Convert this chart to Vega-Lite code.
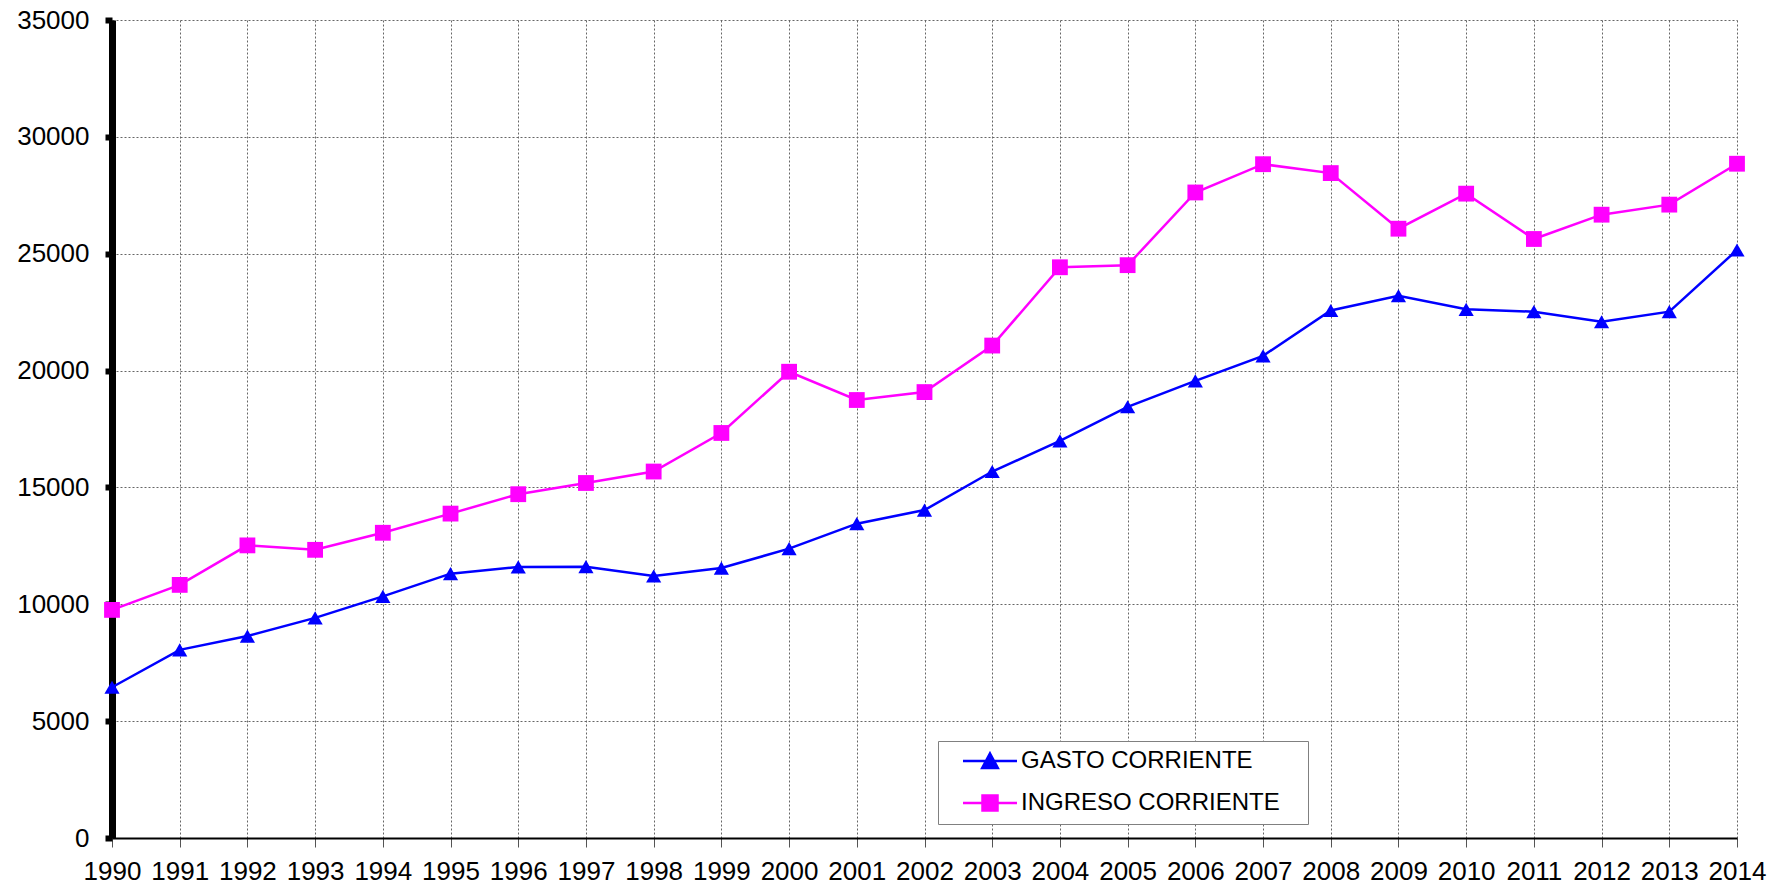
{
  "$schema": "https://vega.github.io/schema/vega-lite/v6.json",
  "autosize": "none",
  "width": 1625,
  "height": 818,
  "padding": {"left": 112, "top": 20, "right": 43, "bottom": 48},
  "background": "white",
  "config": {
    "view": {"stroke": null},
    "font": "Liberation Sans"
  },
  "data": {
    "values": [
      {"year": 1990, "serie": "GASTO CORRIENTE", "valor": 6450},
      {"year": 1991, "serie": "GASTO CORRIENTE", "valor": 8050},
      {"year": 1992, "serie": "GASTO CORRIENTE", "valor": 8640},
      {"year": 1993, "serie": "GASTO CORRIENTE", "valor": 9420},
      {"year": 1994, "serie": "GASTO CORRIENTE", "valor": 10340},
      {"year": 1995, "serie": "GASTO CORRIENTE", "valor": 11310},
      {"year": 1996, "serie": "GASTO CORRIENTE", "valor": 11600},
      {"year": 1997, "serie": "GASTO CORRIENTE", "valor": 11610},
      {"year": 1998, "serie": "GASTO CORRIENTE", "valor": 11210},
      {"year": 1999, "serie": "GASTO CORRIENTE", "valor": 11550},
      {"year": 2000, "serie": "GASTO CORRIENTE", "valor": 12380},
      {"year": 2001, "serie": "GASTO CORRIENTE", "valor": 13450},
      {"year": 2002, "serie": "GASTO CORRIENTE", "valor": 14030},
      {"year": 2003, "serie": "GASTO CORRIENTE", "valor": 15680},
      {"year": 2004, "serie": "GASTO CORRIENTE", "valor": 16990},
      {"year": 2005, "serie": "GASTO CORRIENTE", "valor": 18450},
      {"year": 2006, "serie": "GASTO CORRIENTE", "valor": 19560},
      {"year": 2007, "serie": "GASTO CORRIENTE", "valor": 20630},
      {"year": 2008, "serie": "GASTO CORRIENTE", "valor": 22570},
      {"year": 2009, "serie": "GASTO CORRIENTE", "valor": 23200},
      {"year": 2010, "serie": "GASTO CORRIENTE", "valor": 22620},
      {"year": 2011, "serie": "GASTO CORRIENTE", "valor": 22520},
      {"year": 2012, "serie": "GASTO CORRIENTE", "valor": 22090},
      {"year": 2013, "serie": "GASTO CORRIENTE", "valor": 22520},
      {"year": 2014, "serie": "GASTO CORRIENTE", "valor": 25160},
      {"year": 1990, "serie": "INGRESO CORRIENTE", "valor": 9760},
      {"year": 1991, "serie": "INGRESO CORRIENTE", "valor": 10830},
      {"year": 1992, "serie": "INGRESO CORRIENTE", "valor": 12520},
      {"year": 1993, "serie": "INGRESO CORRIENTE", "valor": 12330},
      {"year": 1994, "serie": "INGRESO CORRIENTE", "valor": 13060},
      {"year": 1995, "serie": "INGRESO CORRIENTE", "valor": 13880},
      {"year": 1996, "serie": "INGRESO CORRIENTE", "valor": 14710},
      {"year": 1997, "serie": "INGRESO CORRIENTE", "valor": 15190},
      {"year": 1998, "serie": "INGRESO CORRIENTE", "valor": 15680},
      {"year": 1999, "serie": "INGRESO CORRIENTE", "valor": 17330},
      {"year": 2000, "serie": "INGRESO CORRIENTE", "valor": 19950},
      {"year": 2001, "serie": "INGRESO CORRIENTE", "valor": 18740},
      {"year": 2002, "serie": "INGRESO CORRIENTE", "valor": 19080},
      {"year": 2003, "serie": "INGRESO CORRIENTE", "valor": 21070},
      {"year": 2004, "serie": "INGRESO CORRIENTE", "valor": 24420},
      {"year": 2005, "serie": "INGRESO CORRIENTE", "valor": 24510},
      {"year": 2006, "serie": "INGRESO CORRIENTE", "valor": 27620},
      {"year": 2007, "serie": "INGRESO CORRIENTE", "valor": 28830},
      {"year": 2008, "serie": "INGRESO CORRIENTE", "valor": 28450},
      {"year": 2009, "serie": "INGRESO CORRIENTE", "valor": 26070},
      {"year": 2010, "serie": "INGRESO CORRIENTE", "valor": 27570},
      {"year": 2011, "serie": "INGRESO CORRIENTE", "valor": 25630},
      {"year": 2012, "serie": "INGRESO CORRIENTE", "valor": 26670},
      {"year": 2013, "serie": "INGRESO CORRIENTE", "valor": 27100},
      {"year": 2014, "serie": "INGRESO CORRIENTE", "valor": 28850}
    ]
  },
  "encoding": {
    "x": {
      "field": "year",
      "type": "quantitative",
      "scale": {"domain": [1990, 2014], "nice": false, "zero": false},
      "axis": {
        "title": null,
        "values": [1990, 1991, 1992, 1993, 1994, 1995, 1996, 1997, 1998, 1999, 2000, 2001, 2002, 2003, 2004, 2005, 2006, 2007, 2008, 2009, 2010, 2011, 2012, 2013, 2014],
        "format": "d",
        "labelFont": "Liberation Sans",
        "labelFontSize": 26,
        "labelColor": "black",
        "labelPadding": 11,
        "labelOverlap": false,
        "labelFlush": false,
        "domainColor": "black",
        "domainWidth": 2,
        "tickColor": "#555555",
        "tickSize": 9,
        "tickWidth": 1,
        "grid": true,
        "gridColor": "#666666",
        "gridDash": [2, 2],
        "gridWidth": 1
      }
    },
    "y": {
      "field": "valor",
      "type": "quantitative",
      "scale": {"domain": [0, 35000], "nice": false},
      "axis": {
        "title": null,
        "values": [0, 5000, 10000, 15000, 20000, 25000, 30000, 35000],
        "format": "d",
        "labelFont": "Liberation Sans",
        "labelFontSize": 26,
        "labelColor": "black",
        "labelPadding": 16,
        "labelFlush": false,
        "domainColor": "black",
        "domainWidth": 7,
        "tickColor": "black",
        "tickSize": 7,
        "tickWidth": 6,
        "grid": true,
        "gridColor": "#666666",
        "gridDash": [2, 2],
        "gridWidth": 1
      }
    }
  },
  "layer": [
    {
      "mark": {"type": "line", "strokeWidth": 2.5},
      "encoding": {
        "color": {
          "field": "serie",
          "type": "nominal",
          "scale": {"domain": ["GASTO CORRIENTE", "INGRESO CORRIENTE"], "range": ["#0000ff", "#ff00ff"]},
          "legend": {
            "title": null,
            "orient": "none",
            "legendX": 826,
            "legendY": 721,
            "direction": "vertical",
            "padding": 8,
            "strokeColor": "#808080",
            "fillColor": "white",
            "labelFont": "Liberation Sans",
            "labelFontSize": 24,
            "labelColor": "black",
            "labelLimit": 600,
            "labelOffset": 19,
            "labelExpr": "datum.label + '\u00a0\u00a0\u00a0\u200b'",
            "symbolOffset": 32,
            "symbolSize": 400,
            "symbolStrokeWidth": 2.5,
            "rowPadding": 17,
            "encode": {
              "symbols": {
                "update": {
                  "shape": {"signal": "datum.value === 'GASTO CORRIENTE' ? 'M-2.7,0L2.7,0M0,-0.75L0.78,0.7L-0.78,0.7Z' : 'M-2.7,0L2.7,0M-0.75,-0.75L0.75,-0.75L0.75,0.75L-0.75,0.75Z'"},
                  "fill": {"signal": "datum.value === 'GASTO CORRIENTE' ? '#0000ff' : '#ff00ff'"},
                  "stroke": {"signal": "datum.value === 'GASTO CORRIENTE' ? '#0000ff' : '#ff00ff'"},
                  "strokeWidth": {"value": 2.5},
                  "opacity": {"value": 1}
                }
              }
            }
          }
        }
      }
    },
    {
      "transform": [{"filter": "datum.serie === 'GASTO CORRIENTE'"}],
      "mark": {"type": "point", "filled": true, "shape": "triangle-up", "size": 230, "color": "#0000ff", "opacity": 1, "strokeWidth": 0}
    },
    {
      "transform": [{"filter": "datum.serie === 'INGRESO CORRIENTE'"}],
      "mark": {"type": "point", "filled": true, "shape": "square", "size": 250, "color": "#ff00ff", "opacity": 1, "strokeWidth": 0}
    }
  ]
}
